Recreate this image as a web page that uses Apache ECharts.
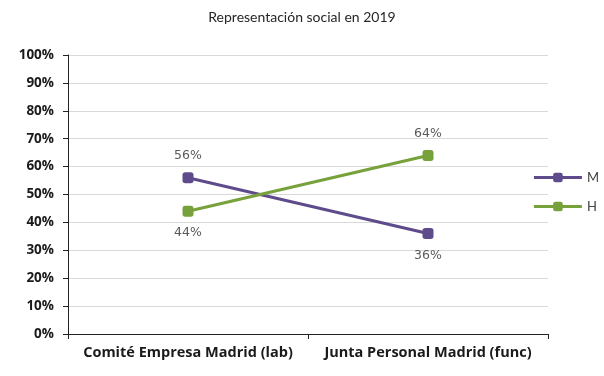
<!DOCTYPE html>
<html>
<head>
<meta charset="utf-8">
<script src="https://cdn.jsdelivr.net/npm/echarts@6/dist/echarts.min.js"></script>
<style>
  html, body { margin: 0; padding: 0; background: #fff; }
  #chart { width: 604px; height: 376px; }
</style>
</head>
<body>
<div id="chart"></div>
<script>
// datos
var categorias = ['Comité Empresa Madrid (lab)', 'Junta Personal Madrid (func)'];
var serieM = [56, 36];
var serieH = [44, 64];

var myChart = echarts.init(document.getElementById('chart'));

var option = {
    title: {
        text: 'Representación social en 2019',
        left: 'center',
        top: 5,
        textStyle: { fontFamily: 'Lato', fontWeight: 'normal', fontSize: 14, color: '#262626' }
    },
    legend: {
        orient: 'vertical',
        right: 0,
        top: 166,
        itemWidth: 48,
        itemHeight: 12,
        itemGap: 16,
        lineStyle: { width: 3 },
        textStyle: { fontFamily: 'Lato', fontSize: 13, color: '#404040' },
        data: ['M', 'H']
    },
    grid: {
        left: 68,
        right: 56,
        top: 55,
        bottom: 42
    },
    xAxis: {
        type: 'category',
        data: categorias,
        boundaryGap: true,
        axisLine: { lineStyle: { color: '#222', width: 1 } },
        axisTick: { show: true, length: 5, lineStyle: { color: '#222' } },
        axisLabel: { fontFamily: 'Open Sans', fontWeight: 'bold', fontSize: 14.5, color: '#1a1a1a', margin: 11, interval: 0 }
    },
    yAxis: {
        type: 'value',
        min: 0,
        max: 100,
        interval: 10,
        axisLine: { show: true, lineStyle: { color: '#222', width: 1 } },
        axisTick: { show: true, length: 5, lineStyle: { color: '#222' } },
        splitLine: { lineStyle: { color: '#d9d9d9' } },
        axisLabel: { formatter: '{value}%', fontFamily: 'Open Sans', fontWeight: 'bold', fontSize: 13.5, color: '#1a1a1a', margin: 14 }
    },
    series: [
        {
            name: 'M',
            type: 'line',
            symbol: 'roundRect',
            symbolSize: 11,
            lineStyle: { width: 3, color: '#5e4b8b' },
            itemStyle: { color: '#5e4b8b' },
            label: { show: true, formatter: '{c}%', fontFamily: 'Verdana, DejaVu Sans', fontSize: 12.5, color: '#595959' }
        },
        {
            name: 'H',
            type: 'line',
            symbol: 'roundRect',
            symbolSize: 11,
            lineStyle: { width: 3, color: '#77a13a' },
            itemStyle: { color: '#77a13a' },
            label: { show: true, formatter: '{c}%', fontFamily: 'Verdana, DejaVu Sans', fontSize: 12.5, color: '#595959' }
        }
    ]
};

// etiquetas: arriba el mayor, abajo el menor
option.series[0].data = serieM.map(function (v, i) {
    return { value: v, label: { position: v >= serieH[i] ? 'top' : 'bottom', distance: 10 } };
});
option.series[1].data = serieH.map(function (v, i) {
    return { value: v, label: { position: v > serieM[i] ? 'top' : 'bottom', distance: 10 } };
});

myChart.setOption(option);

window.addEventListener('resize', function () {
    myChart.resize();
});
</script>
</body>
</html>
